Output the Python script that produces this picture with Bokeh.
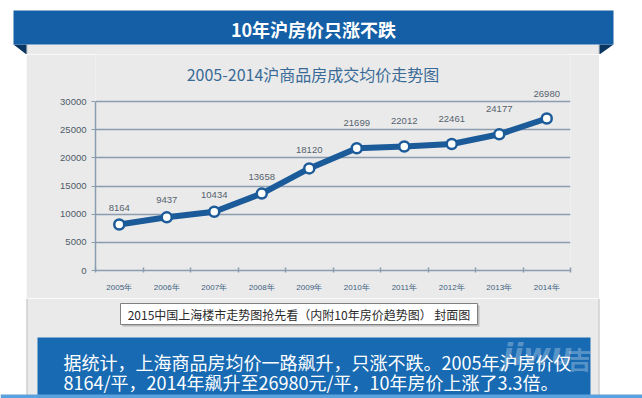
from bokeh.plotting import figure
from bokeh.models import Range1d, FixedTicker, ColumnDataSource, LabelSet, Spacer, NumeralTickFormatter
from bokeh.layouts import column, row
from bokeh.embed import file_html
from bokeh.resources import INLINE
from bokeh.core.properties import value

# ---------------- data ----------------
YEARS = ["2005年", "2006年", "2007年", "2008年", "2009年",
         "2010年", "2011年", "2012年", "2013年", "2014年"]
PRICES = [8164, 9437, 10434, 13658, 18120, 21699, 22012, 22461, 24177, 26980]
Y_TICKS = [0, 5000, 10000, 15000, 20000, 25000, 30000]

BANNER_TITLE = "10年沪房价只涨不跌"
CHART_TITLE = "2005-2014沪商品房成交均价走势图"
CAPTION = "2015中国上海楼市走势图抢先看（内附10年房价趋势图） 封面图"
NOTE_LINES = ["据统计，上海商品房均价一路飙升，只涨不跌。2005年沪房价仅",
              "8164/平，2014年飙升至26980元/平，10年房价上涨了3.3倍。"]

# label offsets above the points (screen px) - style, not data
LABEL_DY = [17, 17, 17, 17, 18, 25, 25, 25, 25, 25]

# ---------------- styles ----------------
BLUE = "#155fa6"
BLUE_DARK = "#0b3662"
BOX_BLUE = "#186ab3"
STRIP = "#5aa2de"
PANEL = "#eaeaea"
PANEL_EDGE = "#c2c2c2"
GRID = "#8b9db0"
LINE = "#1c5b99"
CJK = value("Noto Sans CJK SC")
LAT = "Liberation Sans"

W = 642
H = 398


def canvas_fig(x0, x1, y0, y1):
    f = figure(width=x1 - x0, height=y1 - y0,
               x_range=Range1d(x0, x1), y_range=Range1d(y1, y0),
               x_axis_type=None, y_axis_type=None,
               output_backend="svg", toolbar_location=None,
               min_border_left=0, min_border_right=0,
               min_border_top=0, min_border_bottom=0)
    f.grid.visible = False
    f.outline_line_color = None
    f.background_fill_color = "white"
    f.border_fill_color = "white"
    return f


# ---------------- top: banner ----------------
f1 = canvas_fig(0, W, 0, 54)
f1.quad(left=[26], right=[599], top=[44], bottom=[54], fill_color=PANEL, line_color=None)
f1.segment(x0=[26.5, 598.5], y0=[44, 44], x1=[26.5, 598.5], y1=[54, 54], line_color=PANEL_EDGE, line_width=1)
f1.patch(x=[13, 26, 26], y=[44, 44, 54], fill_color=BLUE_DARK, line_color=None)
f1.patch(x=[599, 613, 599], y=[44, 44, 54], fill_color=BLUE_DARK, line_color=None)
f1.quad(left=[13], right=[613], top=[10], bottom=[44], fill_color=BLUE, line_color=None)
f1.text(x=[313], y=[28], text=[BANNER_TITLE], text_font=CJK, text_font_size="18px",
        text_font_style="bold", text_color="white", text_align="center", text_baseline="middle")

# ---------------- middle: chart ----------------
n = len(YEARS)
xs = [i + 0.5 for i in range(n)]
FRAME_PX = 270 - 54      # frame height in px
AXIS_PX = 270 - 101      # px from 0 to top tick
y_top = Y_TICKS[-1] * FRAME_PX / AXIS_PX

p = figure(width=573, height=244, x_range=Range1d(0, n), y_range=Range1d(0, y_top),
           output_backend="svg", toolbar_location=None,
           min_border_left=69, min_border_right=29, min_border_top=0, min_border_bottom=28)
p.outline_line_color = None
p.background_fill_color = PANEL
p.border_fill_color = PANEL
p.extra_x_ranges = {"px": Range1d(95, 570)}
p.extra_y_ranges = {"py": Range1d(270, 54)}

p.xgrid.visible = False
p.ygrid.grid_line_color = GRID
p.ygrid.grid_line_width = 1.5

yax = p.yaxis[0]
yax.ticker = FixedTicker(ticks=Y_TICKS)
yax.bounds = (0, Y_TICKS[-1])
yax.formatter = NumeralTickFormatter(format="0")
yax.axis_line_color = GRID
yax.axis_line_width = 1.5
yax.major_tick_line_color = GRID
yax.major_tick_in = 0
yax.major_tick_out = 4
yax.minor_tick_line_color = None
yax.major_label_standoff = 5
yax.major_label_text_font = LAT
yax.major_label_text_font_size = "9.5px"
yax.major_label_text_color = "#4e5c68"

xax = p.xaxis[0]
xax.ticker = FixedTicker(ticks=xs, minor_ticks=list(range(n + 1)))
xax.major_label_overrides = {x: lab for x, lab in zip(xs, YEARS)}
xax.axis_line_color = GRID
xax.axis_line_width = 1.5
xax.major_tick_line_color = None
xax.major_tick_in = 0
xax.major_tick_out = 0
xax.minor_tick_line_color = GRID
xax.minor_tick_line_width = 1.5
xax.minor_tick_in = 3
xax.minor_tick_out = 2
xax.major_label_standoff = 10
xax.major_label_text_font = LAT
xax.major_label_text_font_size = "8px"
xax.major_label_text_color = "#3f5f7f"

src = ColumnDataSource(dict(x=xs, y=PRICES, label=[str(v) for v in PRICES], dy=LABEL_DY))
p.line("x", "y", source=src, line_color=LINE, line_width=6, line_join="round")
p.scatter("x", "y", source=src, size=10, fill_color="white", line_color=LINE, line_width=2.5)
labels = LabelSet(x="x", y="y", text="label", y_offset="dy", source=src,
                  text_align="center", text_baseline="middle",
                  text_font=value(LAT), text_font_size="9.5px", text_color="#55626d")
p.add_layout(labels)

p.text(x=[312.5], y=[73], text=[CHART_TITLE], x_range_name="px", y_range_name="py",
       text_font=CJK, text_font_size="16px", text_color="#3a6b97",
       text_align="center", text_baseline="middle")

mid = row(Spacer(width=26, height=244), p, Spacer(width=W - 26 - 573, height=244))

# ---------------- bottom: caption + note ----------------
f3 = canvas_fig(0, W, 298, H)
f3.quad(left=[26], right=[599], top=[298], bottom=[H], fill_color=PANEL, line_color=None)
f3.segment(x0=[26.5, 598.5], y0=[298, 298], x1=[26.5, 598.5], y1=[H, H], line_color=PANEL_EDGE, line_width=1)
# caption box with shadow
f3.quad(left=[122], right=[479], top=[305], bottom=[326], fill_color="#9a9a9a", fill_alpha=0.6, line_color=None)
f3.quad(left=[120], right=[477], top=[303], bottom=[324], fill_color="white", line_color="#808080", line_width=1)
f3.text(x=[298.5], y=[314], text=[CAPTION], text_font=CJK, text_font_size="12px", text_color="#2a2a2a",
        text_align="center", text_baseline="middle")
# blue note box
f3.quad(left=[37], right=[590], top=[337], bottom=[H], fill_color=BOX_BLUE, line_color=None)
f3.quad(left=[0], right=[W], top=[394], bottom=[H], fill_color=STRIP, line_color=None)
f3.text(x=[537], y=[354], text=["jiwu"], text_font=value("DejaVu Sans"), text_font_size="30px",
        text_font_style="bold italic", text_color="white", text_alpha=0.3,
        text_align="center", text_baseline="middle")
f3.text(x=[579], y=[358], text=["吉"], text_font=CJK, text_font_size="24px", text_font_style="bold",
        text_color="white", text_alpha=0.3, text_align="center", text_baseline="middle")
f3.text(x=[63, 63], y=[361, 381], text=NOTE_LINES, text_font=CJK, text_font_size="18px",
        text_color="white", text_align="left", text_baseline="middle")

layout = column(f1, mid, f3)
open("out.html", "w").write(file_html(layout, INLINE))
